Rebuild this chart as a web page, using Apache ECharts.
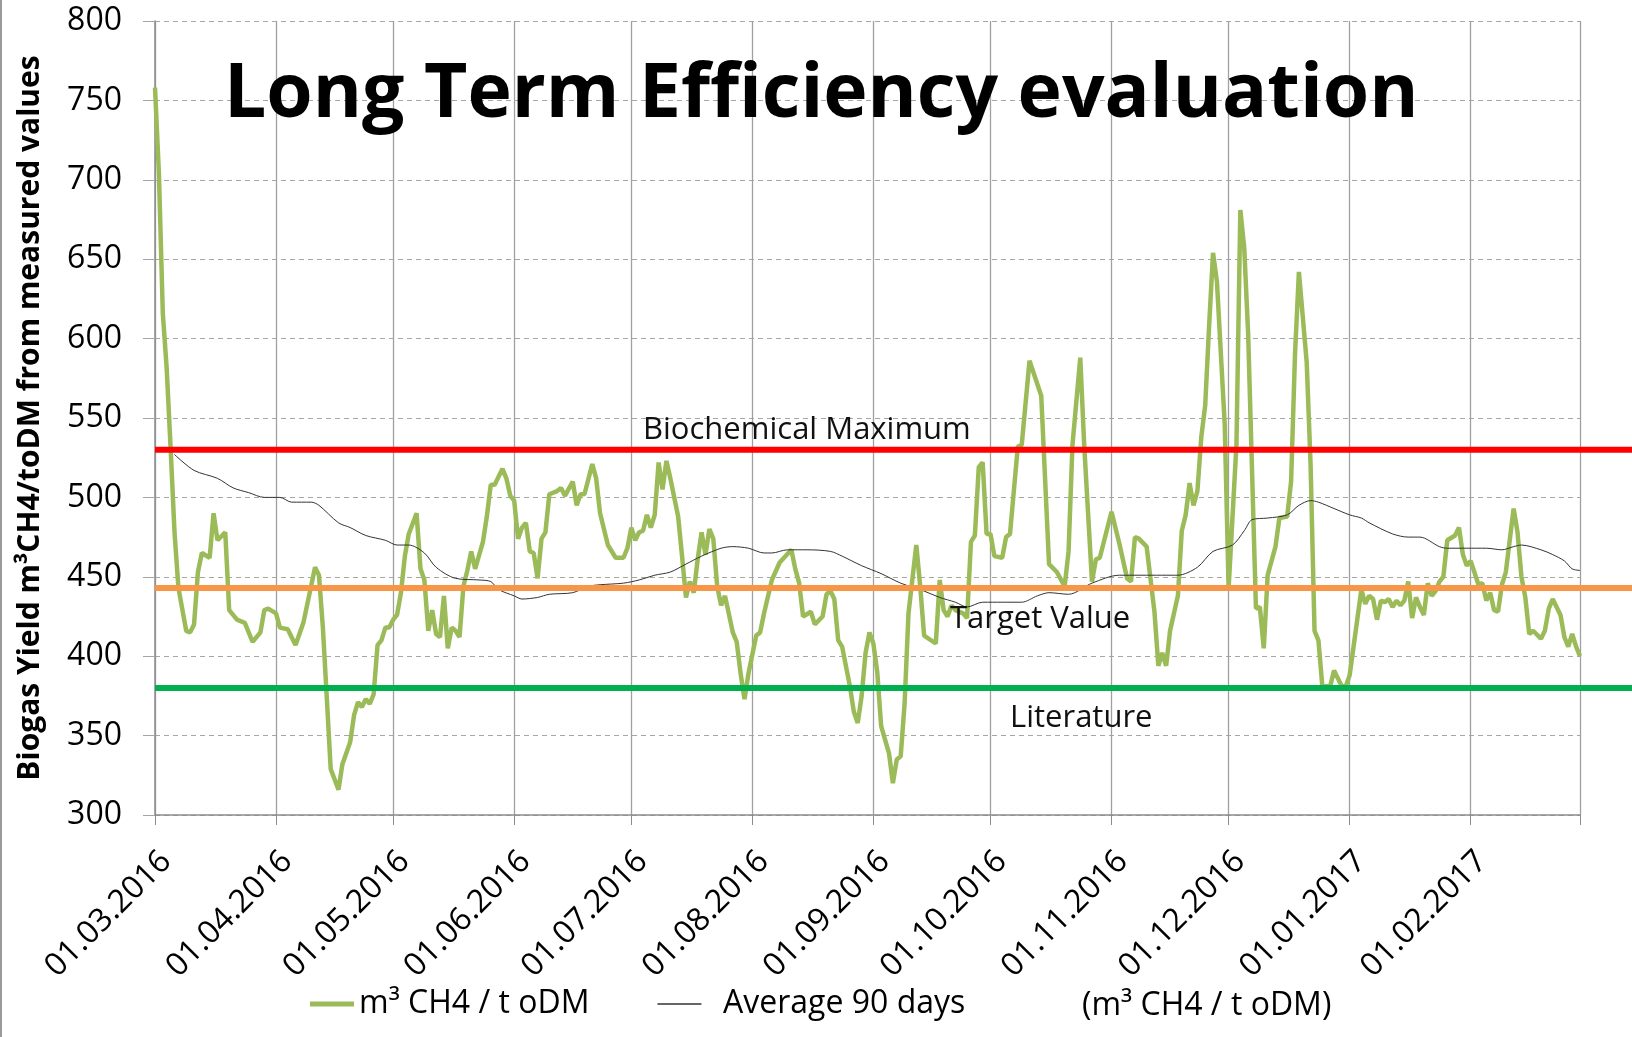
<!DOCTYPE html>
<html>
<head>
<meta charset="utf-8">
<script src="https://cdn.jsdelivr.net/npm/echarts@6/dist/echarts.min.js"></script>
<style>
html, body { margin: 0; padding: 0; background: #fff; }
#chart { width: 1632px; height: 1037px; }
</style>
</head>
<body>
<div id="chart"></div>
<script>
// daily measurement: [day index from 01.03.2016, m3 CH4 / t oDM]
var greenPoints = [
    [0,758],[1,704],[2,616],[3,581],[4,531],[5,478],[6,443],[8,416],[9,415],[10,420],[11,453],[12,465],[14,462],[15,490],[16,473],[18,478],[19,429],[21,423],[23,421],[25,409],[27,415],[28,429],[29,430],
    [31,427],[32,418],[34,417],[35,412],[36,407],[38,421],[41,456],[42,451],[43,418],[44,374],[45,329],[47,316],[48,332],[50,346],[51,363],[52,371],[53,368],[54,373],[55,370],[56,376],[57,407],[58,410],[59,418],[60,418],
    [61,423],[62,426],[63,440],[64,463],[65,477],[67,490],[68,455],[69,448],[70,416],[71,429],[72,414],[73,412],[74,438],[75,405],[76,418],[77,416],[78,412],[79,444],[80,454],[81,466],[82,455],[84,472],[85,488],[86,508],[87,508],[89,518],[90,512],[91,501],
    [92,498],[93,474],[94,481],[95,484],[96,466],[97,465],[98,449],[99,474],[100,478],[101,502],[103,504],[104,506],[105,501],[107,510],[108,495],[109,502],[110,502],[112,521],[113,512],[114,490],[116,470],[118,462],[120,462],[121,468],
    [122,481],[123,473],[124,478],[125,479],[126,489],[127,481],[128,489],[129,522],[130,505],[131,523],[132,512],[134,488],[135,463],[136,437],[137,447],[138,440],[139,461],[140,478],[141,464],[142,480],[143,474],[144,444],[145,432],[146,438],[148,415],[149,409],[150,389],[151,373],[152,389],
    [154,413],[155,415],[156,427],[158,448],[160,459],[163,467],[164,455],[165,446],[166,425],[168,428],[169,420],[171,425],[172,439],[173,441],[174,436],[175,410],[176,406],[178,381],[179,365],[180,358],[181,375],[182,402],[183,415],
    [184,408],[185,390],[186,356],[188,339],[189,320],[190,335],[191,337],[192,370],[193,427],[195,470],[196,444],[197,413],[200,408],[201,448],[202,429],[203,425],[204,432],[205,429],[207,427],[208,424],[209,472],[210,476],[211,519],[212,522],[213,477],
    [214,477],[215,463],[217,462],[218,475],[219,477],[221,532],[222,533],[224,586],[227,564],[229,458],[231,453],[233,444],[234,466],[235,533],[237,588],[238,533],[240,447],[241,461],[242,462],
    [245,491],[247,471],[249,449],[250,447],[251,475],[252,474],[254,469],[256,428],[257,394],[258,402],[259,394],[260,416],[262,438],[263,479],[264,489],[265,509],[266,495],[267,504],[268,538],[269,558],[270,608],[271,654],[272,636],[274,546],
    [275,443],[277,533],[278,681],[279,657],[280,603],[282,430],[283,431],[284,405],[285,451],[287,469],[288,487],[290,488],[291,510],[292,590],[293,642],[295,585],[296,520],[297,416],[298,410],[299,381],[301,381],[302,391],[304,381],[305,381],
    [306,388],[307,406],[309,442],[310,433],[311,438],[312,436],[313,423],[314,435],[315,434],[316,436],[317,431],[318,435],[319,432],[320,435],[321,447],[322,424],[323,437],[324,431],[325,426],[326,446],[327,438],[328,441],[329,447],[330,450],[331,473],[333,476],[334,481],[335,464],[336,457],
    [337,460],[339,445],[340,446],[341,435],[342,440],[343,429],[344,428],[345,445],[346,453],[347,473],[348,493],[349,478],[350,450],[351,437],[352,414],[353,416],[355,411],[356,416],[357,430],[358,436],[360,426],[361,412],[362,406],[363,414],[364,406],[365,400]
];

// 90 days average
var avgPoints = [
    [5,527],[10,517],[16,512],[20,506],[24,503],[28,500],[32,500],[35,497],[40,497],[42,495],
    [47,484],[50,481],[54,476],[59,473],[62,470],[65,470],[69,465],[72,456],[77,449],[83,448],
    [86,447],[88,442],[92,438],[94,436],[98,437],[101,439],[107,440],[111,444],[114,445],[120,446],
    [124,448],[128,451],[132,453],[136,458],[140,463],[145,468],[148,469],[152,468],[156,465],[158,465],
    [162,467],[167,467],[173,466],[176,463],[181,457],[186,452],[191,446],[197,441],[201,437],[205,434],
    [208,431],[212,434],[217,434],[222,434],[226,438],[229,440],[234,439],[240,446],[247,451],[254,451],
    [259,451],[262,451],[267,456],[271,466],[276,470],[279,479],[281,486],[285,487],[290,489],[293,495],
    [296,498],[298,497],[302,493],[306,489],[309,487],[311,484],[317,477],[321,475],[324,475],[329,469],
    [331,468],[336,468],[341,468],[345,467],[348,469],[350,470],[355,467],[358,464],[361,460],[363,455],[365,454]
];

var refNames = ['Biochemical Maximum', 'Target Value', 'Literature'];
var refValues = [530, 443, 380];
var seriesNames = ['m³ CH4 / t oDM', 'Average 90 days'];
var unitText = '(m³ CH4 / t oDM)';
var titleText = 'Long Term Efficiency evaluation';
var yAxisTitle = 'Biogas Yield m³CH4/toDM from measured values';

// one category per day, 01.03.2016 .. 01.03.2017
function pad(n) { return n < 10 ? '0' + n : '' + n; }
var categories = [];
for (var i = 0; i <= 365; i++) {
    var d = new Date(2016, 2, 1 + i);
    categories.push(pad(d.getDate()) + '.' + pad(d.getMonth() + 1) + '.' + d.getFullYear());
}
function monthStart(idx, val) { return val.slice(0, 3) === '01.'; }

var font = '"Open Sans", "DejaVu Sans", sans-serif';
var refColors = ['#FF0000', '#F79646', '#00B050'];
var refLabelPos = [[643, 430], [950, 619], [1010, 718]];

var myChart = echarts.init(document.getElementById('chart'));

let refSeries = refValues.map((v, i) => ({
    name: refNames[i],
    type: 'line',
    xAxisIndex: 1,
    yAxisIndex: 1,
    data: [[0, v], [1, v]],
    symbol: 'none',
    silent: true,
    z: 5,
    lineStyle: { color: refColors[i], width: 6 }
}));

let graList = [
    { type: 'line', shape: { x1: 1, y1: 0, x2: 1, y2: 1037 }, style: { stroke: '#9a9a9a', lineWidth: 2 } },
    { type: 'text', x: 224, y: 96, z: 10, style: { text: titleText, fill: '#000', font: 'bold 75px ' + font, textVerticalAlign: 'middle' } },
    { type: 'text', x: 1082, y: 1006, style: { text: unitText, fill: '#000', font: '32px ' + font, textVerticalAlign: 'middle' } }
];
refNames.forEach((n, i) => {
    graList.push({ type: 'text', x: refLabelPos[i][0], y: refLabelPos[i][1], z: 10,
        style: { text: n, fill: '#111', font: '31px ' + font, textVerticalAlign: 'middle' } });
});

let option = {
    animation: false,
    backgroundColor: '#fff',
    textStyle: { fontFamily: font },
    graphic: graList,
    legend: {
        left: 310,
        top: 988,
        padding: 0,
        itemWidth: 44,
        itemHeight: 16,
        itemGap: 68,
        data: [
            { name: seriesNames[0], icon: 'path://M0,0 L44,0 L44,5 L0,5 Z' },
            { name: seriesNames[1], icon: 'path://M0,0 L44,0 L44,1.3 L0,1.3 Z' }
        ],
        formatter: name => name === seriesNames[1] ? '  ' + name : name,
        textStyle: { fontSize: 32, color: '#000', fontFamily: font }
    },
    grid: [
        { left: 155, right: 52, top: 21, bottom: 222, containLabel: false },
        { left: 155, right: 0, top: 21, bottom: 222, containLabel: false }
    ],
    xAxis: [
        {
            type: 'category',
            gridIndex: 0,
            boundaryGap: false,
            data: categories,
            axisLine: { lineStyle: { color: '#8c8c8c', width: 1.5 } },
            axisTick: { show: true, length: 10, interval: monthStart, lineStyle: { color: '#8c8c8c' } },
            axisLabel: {
                interval: (idx, val) => monthStart(idx, val) && idx < 365,
                rotate: 45,
                margin: 30,
                verticalAlign: 'top',
                fontSize: 32,
                color: '#000',
                fontFamily: font
            },
            splitLine: { show: true, interval: monthStart, lineStyle: { color: '#a0a0a0', width: 1.3 } }
        },
        { type: 'value', gridIndex: 1, min: 0, max: 1, show: false }
    ],
    yAxis: [
        {
            type: 'value',
            gridIndex: 0,
            min: 300,
            max: 800,
            interval: 50,
            name: yAxisTitle,
            nameLocation: 'middle',
            nameGap: 110,
            nameTextStyle: { fontSize: 30, fontWeight: 'bold', color: '#000', fontFamily: font },
            axisLine: { show: true, lineStyle: { color: '#8c8c8c', width: 1.5 } },
            axisTick: { show: true, length: 12, lineStyle: { color: '#a6a6a6' } },
            axisLabel: { fontSize: 32, color: '#000', margin: 33, fontFamily: font },
            splitLine: { show: true, lineStyle: { color: '#a6a6a6', type: [5, 4], width: 1 } }
        },
        { type: 'value', gridIndex: 1, min: 300, max: 800, show: false }
    ],
    series: [
        {
            name: seriesNames[0],
            type: 'line',
            data: greenPoints,
            symbol: 'none',
            z: 3,
            lineStyle: { color: '#9BBB59', width: 4.5 },
            itemStyle: { color: '#9BBB59' }
        },
        {
            name: seriesNames[1],
            type: 'line',
            data: avgPoints,
            symbol: 'none',
            smooth: 0.3,
            z: 4,
            lineStyle: { color: '#333333', width: 1 },
            itemStyle: { color: '#333333' }
        }
    ].concat(refSeries)
};

myChart.setOption(option);
</script>
</body>
</html>
